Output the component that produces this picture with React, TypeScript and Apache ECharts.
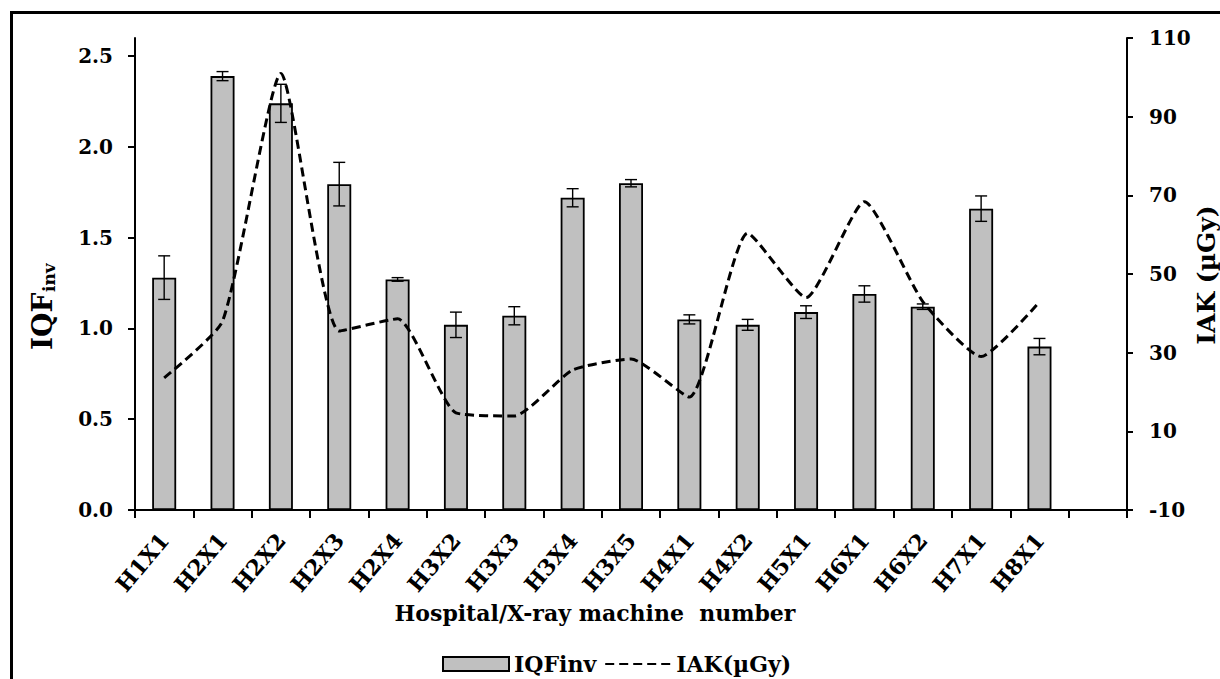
import React, { useEffect, useRef } from "react";
import * as echarts from "echarts";

const categories = ["H1X1", "H2X1", "H2X2", "H2X3", "H2X4", "H3X2", "H3X3", "H3X4", "H3X5", "H4X1", "H4X2", "H5X1", "H6X1", "H6X2", "H7X1", "H8X1", ""];
const iqfValues = [1.28, 2.39, 2.24, 1.795, 1.27, 1.02, 1.07, 1.72, 1.8, 1.05, 1.02, 1.09, 1.19, 1.12, 1.66, 0.9];
const iqfErrors = [0.12, 0.025, 0.105, 0.12, 0.01, 0.07, 0.05, 0.05, 0.02, 0.025, 0.03, 0.035, 0.045, 0.015, 0.07, 0.045];
const iakValues = [23.6, 38, 101, 35.5, 38.6, 14.7, 13.9, 25.6, 28.4, 18.7, 60.4, 44, 68.4, 43, 29, 42.9];
const leftTicks = [0, 0.5, 1, 1.5, 2, 2.5];
const rightTicks = [-10, 10, 30, 50, 70, 90, 110];

const FONT = "DejaVu Serif";

export default function App() {
  const ref = useRef<HTMLDivElement>(null);
  useEffect(() => {
    document.body.style.margin = "0";
    const chart = echarts.init(ref.current!, null, { renderer: "svg" });
    const errData = iqfValues.map((v, i) => [i, v - iqfErrors[i], v + iqfErrors[i]]);
    const labelStyle = { fontFamily: FONT, fontWeight: "bold", fontSize: 20, color: "#000" };
    chart.setOption({
      animation: false,
      backgroundColor: "#fff",
      grid: { left: 135, right: 93, top: 38, bottom: 169, containLabel: false },
      legend: {
        left: 437,
        top: 648,
        itemWidth: 66,
        itemHeight: 14,
        itemGap: 8,
        data: [{ name: "IQFinv", icon: "rect" }, { name: "IAK(µGy)" }],
        textStyle: { fontFamily: FONT, fontWeight: "bold", fontSize: 22, color: "#000" },
      },
      xAxis: {
        type: "category",
        data: categories,
        axisLine: { lineStyle: { color: "#000", width: 2 } },
        axisTick: { show: true, length: 8, interval: 0, lineStyle: { color: "#000", width: 2 } },
        axisLabel: { ...labelStyle, fontSize: 22, rotate: 50, interval: 0, margin: 26 },
      },
      yAxis: [
        {
          type: "value",
          min: 0,
          max: 2.6,
          splitLine: { show: false },
          axisLine: { show: true, lineStyle: { color: "#000", width: 2 } },
          axisTick: { show: true, length: 7, customValues: leftTicks, lineStyle: { color: "#000", width: 2 } },
          axisLabel: { ...labelStyle, margin: 22, customValues: leftTicks, formatter: (v: number) => v.toFixed(1) },
        },
        {
          type: "value",
          min: -10,
          max: 110,
          position: "right",
          splitLine: { show: false },
          axisLine: { show: true, lineStyle: { color: "#000", width: 2 } },
          axisTick: { show: true, length: 6, customValues: rightTicks, lineStyle: { color: "#000", width: 2 } },
          axisLabel: { ...labelStyle, margin: 22, customValues: rightTicks },
        },
      ],
      series: [
        {
          name: "IQFinv",
          type: "bar",
          yAxisIndex: 0,
          data: iqfValues,
          barWidth: 24,
          itemStyle: { color: "#c0c0c0", borderColor: "#000", borderWidth: 1.8 },
          z: 2,
        },
        {
          name: "errors",
          type: "custom",
          yAxisIndex: 0,
          data: errData,
          encode: { x: 0, y: [1, 2] },
          z: 3,
          renderItem: (params: any, api: any) => {
            const idx = api.value(0);
            const pLo = api.coord([idx, api.value(1)]);
            const pHi = api.coord([idx, api.value(2)]);
            const hw = 6;
            const st = { stroke: "#000", lineWidth: 1.4 };
            return {
              type: "group",
              children: [
                { type: "line", shape: { x1: pHi[0], y1: pHi[1], x2: pLo[0], y2: pLo[1] }, style: st },
                { type: "line", shape: { x1: pHi[0] - hw, y1: pHi[1], x2: pHi[0] + hw, y2: pHi[1] }, style: st },
                { type: "line", shape: { x1: pLo[0] - hw, y1: pLo[1], x2: pLo[0] + hw, y2: pLo[1] }, style: st },
              ],
            };
          },
        },
        {
          name: "IAK(µGy)",
          type: "line",
          yAxisIndex: 1,
          data: iakValues,
          smooth: 0.18,
          symbol: "none",
          lineStyle: { color: "#000", width: 3, type: [9, 5] },
          itemStyle: { color: "rgba(0,0,0,0)", borderWidth: 0 },
          z: 4,
        },
      ],
      graphic: [
        {
          type: "rect",
          shape: { x: 11.5, y: 12.5, width: 1230, height: 700 },
          style: { fill: "none", stroke: "#000", lineWidth: 3 },
          silent: true,
        },
        {
          type: "text",
          x: 595,
          y: 613,
          style: {
            text: "Hospital/X-ray machine  number",
            fontFamily: FONT,
            fontWeight: "bold",
            fontSize: 22,
            fill: "#000",
            textAlign: "center",
            textVerticalAlign: "middle",
          },
        },
        {
          type: "group",
          x: 42,
          y: 306,
          rotation: Math.PI / 2,
          children: [
            {
              type: "text",
              x: -44,
              y: 0,
              style: { text: "IQF", fontFamily: FONT, fontWeight: "bold", fontSize: 28, fill: "#000", textAlign: "left", textVerticalAlign: "middle" },
            },
            {
              type: "text",
              x: 14,
              y: 7,
              style: { text: "inv", fontFamily: FONT, fontWeight: "bold", fontSize: 17, fill: "#000", textAlign: "left", textVerticalAlign: "middle" },
            },
          ],
        },
        {
          type: "text",
          x: 1206,
          y: 275,
          rotation: Math.PI / 2,
          style: {
            text: "IAK (µGy)",
            fontFamily: FONT,
            fontWeight: "bold",
            fontSize: 25,
            fill: "#000",
            textAlign: "center",
            textVerticalAlign: "middle",
          },
        },
      ],
    });
    return () => chart.dispose();
  }, []);
  return <div ref={ref} style={{ width: 1220, height: 679 }} />;
}
